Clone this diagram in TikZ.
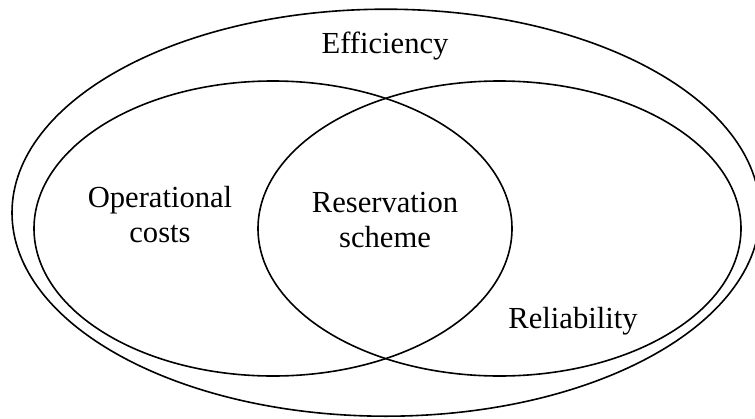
\documentclass[tikz,border=0pt]{standalone}
\usepackage{fontspec}
\setmainfont{Liberation Serif}
\usepackage{tikz}

\tikzset{
  venn/.style={line width=0.8pt},
  lbl/.style={align=center, anchor=base, inner sep=0pt,
    font=\fontsize{15.3}{17.5}\selectfont}
}

\begin{document}
\begin{tikzpicture}[x=0.5pt,y=-0.5pt]
  \useasboundingbox (0,0) rectangle (755,418);

  % sets
  \draw[venn] (386,212.7) ellipse [x radius=374, y radius=203.5];
  \draw[venn] (273,228.5) ellipse [x radius=239, y radius=147.5];
  \draw[venn] (499.5,228.5) ellipse [x radius=241.5, y radius=147.5];

  % labels
  \node[lbl] (eff) at (385,53)  {Efficiency};
  \node[lbl] (ops) at (160,242) {Operational\\costs};
  \node[lbl] (res) at (385,247) {Reservation\\scheme};
  \node[lbl] (rel) at (573,328) {Reliability};
\end{tikzpicture}
\end{document}
